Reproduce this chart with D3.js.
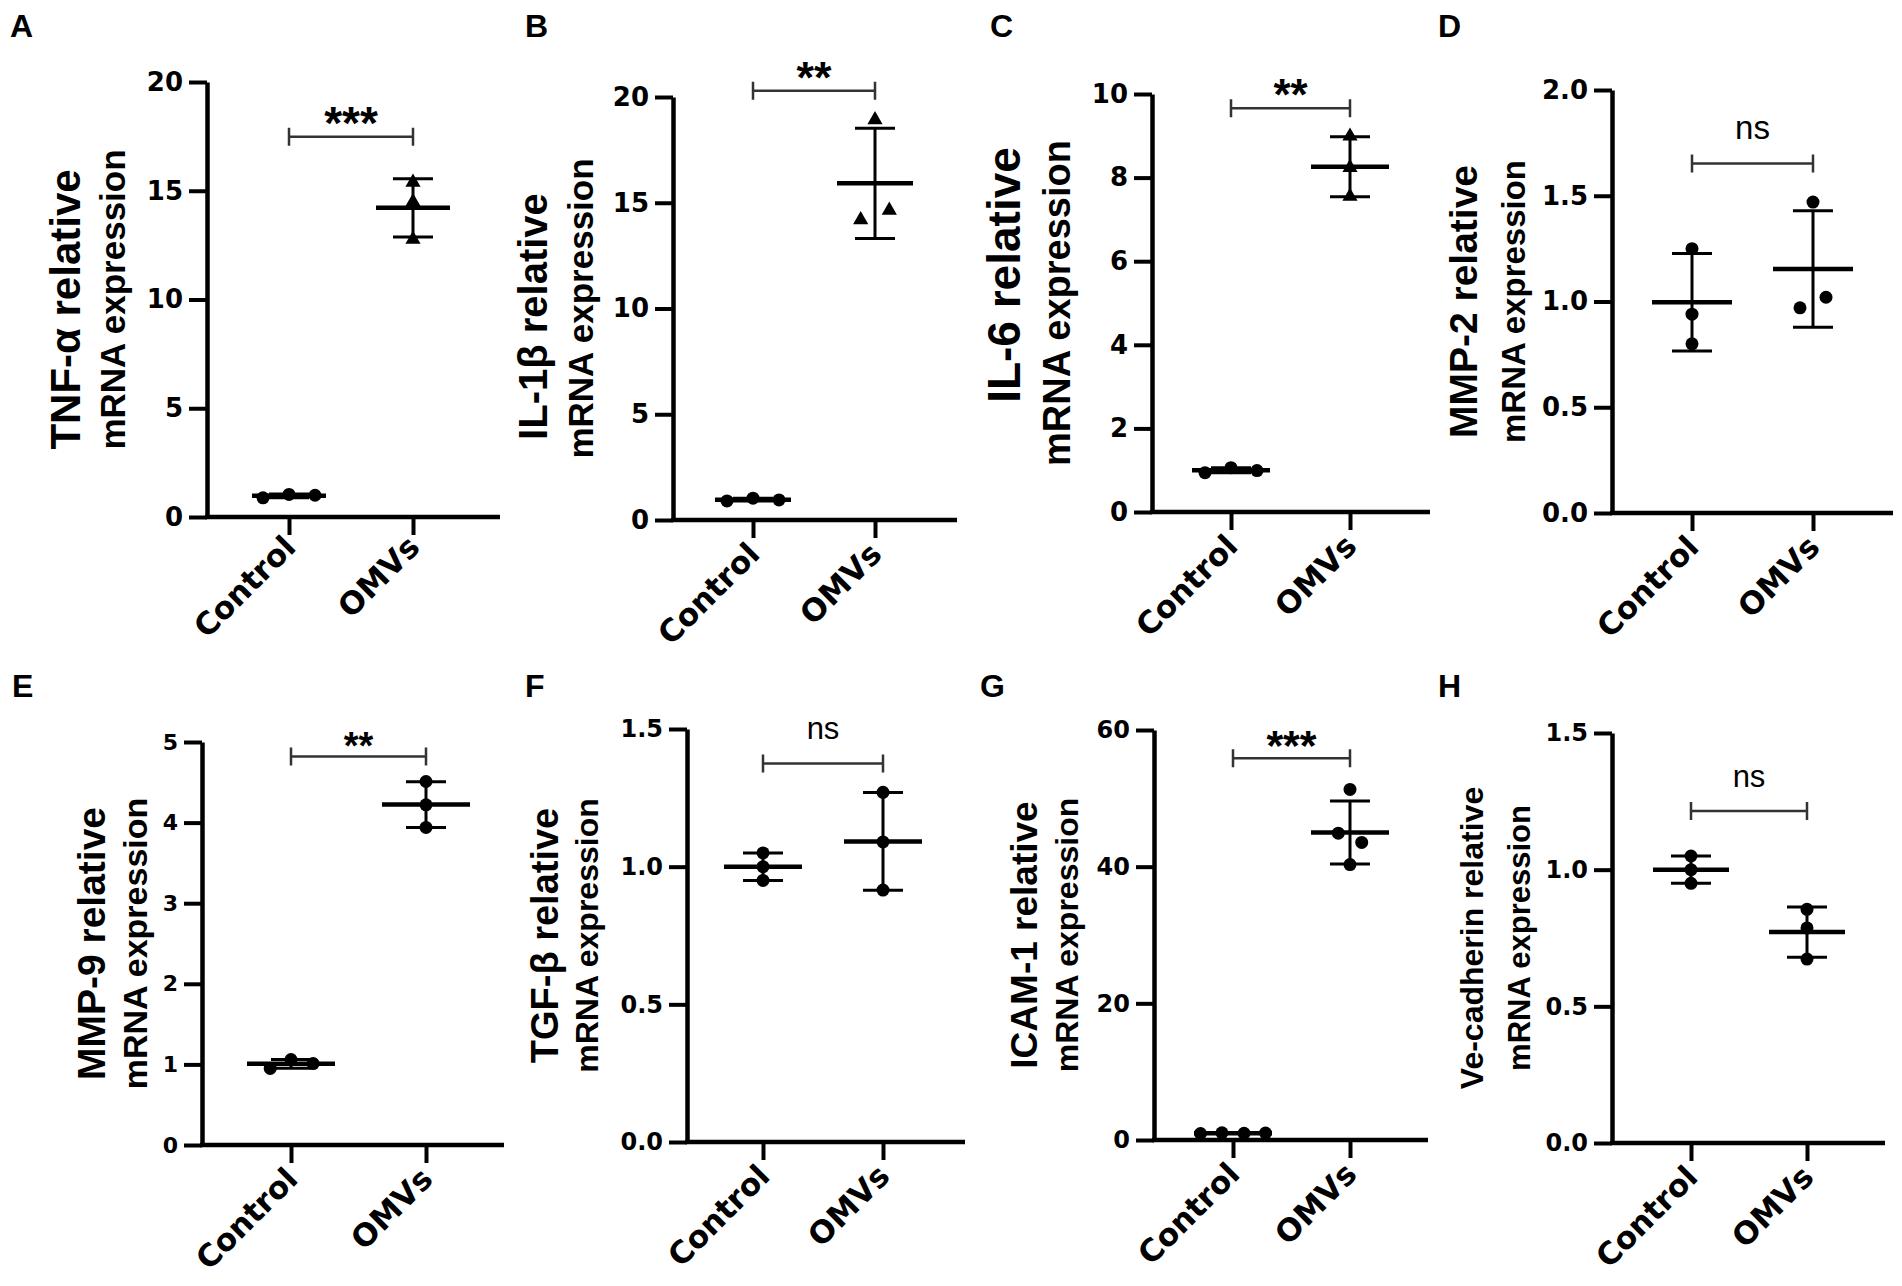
<!DOCTYPE html>
<html>
<head>
<meta charset="utf-8">
<script src="https://cdn.jsdelivr.net/npm/d3@7"></script>
<style>
	body { margin: 0; background: #fff; }
</style>
</head>
<body>
<svg id="fig" width="1902" height="1286"></svg>
<script>
// values
const groups = ["Control", "OMVs"];
const panelLetters = ["A", "B", "C", "D", "E", "F", "G", "H"];
const titleLines = [
	["TNF-α relative", "mRNA expression"],
	["IL-1β relative", "mRNA expression"],
	["IL-6 relative", "mRNA expression"],
	["MMP-2 relative", "mRNA expression"],
	["MMP-9 relative", "mRNA expression"],
	["TGF-β relative", "mRNA expression"],
	["ICAM-1 relative", "mRNA expression"],
	["Ve-cadherin relative", "mRNA expression"]
];
const yTicks = [
	[0, 5, 10, 15, 20],
	[0, 5, 10, 15, 20],
	[0, 2, 4, 6, 8, 10],
	[0, 0.5, 1, 1.5, 2],
	[0, 1, 2, 3, 4, 5],
	[0, 0.5, 1, 1.5],
	[0, 20, 40, 60],
	[0, 0.5, 1, 1.5]
];
const tickDecimals = [0, 0, 0, 1, 0, 1, 0, 1];
const controlValues = [
	[0.88, 1.04, 1.00],
	[0.90, 1.03, 0.95],
	[0.94, 1.06, 0.99],
	[1.25, 0.94, 0.80],
	[0.95, 1.06, 1.01],
	[1.05, 1.00, 0.95],
	[0.95, 1.05, 0.98, 1.02],
	[1.05, 1.00, 0.95]
];
const omvValues = [
	[15.39, 14.49, 12.76],
	[18.92, 14.19, 14.64],
	[8.99, 8.24, 7.55],
	[1.47, 0.97, 1.02],
	[4.51, 4.22, 3.94],
	[1.27, 1.09, 0.915],
	[51.3, 44.9, 43.55, 40.3],
	[0.855, 0.787, 0.673]
];
// side-by-side spreading of points (in point widths)
const controlJitter = [[-2, 0, 2], [-2, 0, 2], [-2, 0, 2], [0, 0, 0], [-1.6, 0, 1.7], [0, 0, 0], [-2.5, -0.85, 0.85, 2.5], [0, 0, 0]];
const omvJitter = [[0, 0, 0], [0, -1.1, 1.1], [0, 0, 0], [0, -1, 1], [0, 0, 0], [0, 0, 0], [0, -0.9, 0.9, 0], [0, 0, 0]];
const omvShape = ["triangle", "triangle", "triangle", "circle", "circle", "circle", "circle", "circle"];
const sigLabels = ["***", "**", "**", "ns", "**", "ns", "***", "ns"];
const sigLevels = [17.48, 20.3, 9.66, 1.653, 4.82, 1.375, 55.85, 1.215];

// panel placement on the page
const layout = [
	{ax: 207, top: 82, zero: 517, xc: 289, xo: 413, xEnd: 500, lx: 10, ly: 37, tick: 26, title: [42, 35], tOff: [-127, -82], tShift: 10, labDy: -4, star: 46, ns: 33, mean: 37},
	{ax: 673, top: 97, zero: 520, xc: 753, xo: 875, xEnd: 957, lx: 525, ly: 37, tick: 26, title: [40, 35], tOff: [-126, -80], tShift: 8, labDy: 0, star: 45, ns: 33, mean: 38},
	{ax: 1152, top: 94, zero: 512, xc: 1231, xo: 1350, xEnd: 1430, lx: 990, ly: 37, tick: 26, title: [46, 38], tOff: [-132, -82], tShift: -28, labDy: 0, star: 44, ns: 33, mean: 39},
	{ax: 1612, top: 90, zero: 513, xc: 1692, xo: 1813, xEnd: 1893, lx: 1438, ly: 37, tick: 26, title: [39, 33], tOff: [-135, -87], tShift: 0, labDy: 0, star: 44, ns: 33, mean: 40},
	{ax: 202, top: 742, zero: 1145, xc: 291, xo: 426, xEnd: 504, lx: 12, ly: 697, tick: 22, title: [39, 34], tOff: [-97, -55], tShift: 0, labDy: 0, star: 38, ns: 31, mean: 44},
	{ax: 687, top: 729, zero: 1142, xc: 763, xo: 883, xEnd: 965, lx: 525, ly: 697, tick: 24, title: [38, 32], tOff: [-129, -89], tShift: 0, labDy: 0, star: 42, ns: 31, mean: 39},
	{ax: 1154, top: 730, zero: 1140, xc: 1233, xo: 1350, xEnd: 1428, lx: 980, ly: 697, tick: 24, title: [37, 32], tOff: [-117, -76], tShift: 0, labDy: 0, star: 43, ns: 31, mean: 39},
	{ax: 1612, top: 733, zero: 1143, xc: 1691, xo: 1807, xEnd: 1885, lx: 1438, ly: 697, tick: 24, title: [32, 31], tOff: [-129, -82], tShift: 0, labDy: 0, star: 42, ns: 31, mean: 38}
];

const sansBold = "'Liberation Sans', Arial, sans-serif";
const wideBold = "'DejaVu Sans', sans-serif";
const pointStep = 13,
	capHalf = 20;

const svg = d3.select("#fig");
svg.append("rect").attr("width", 1902).attr("height", 1286).attr("fill", "#fff");

panelLetters.forEach((letter, i) => {
	let L = layout[i],
		g = svg.append("g");

	let y = d3.scaleLinear()
		.domain([0, d3.max(yTicks[i])])
		.range([L.zero, L.top]);

	let x = d3.scalePoint()
		.domain(groups)
		.range([L.xc, L.xo]);

	// panel letter
	g.append("text")
		.attr("x", L.lx)
		.attr("y", L.ly)
		.attr("font-family", sansBold)
		.attr("font-weight", "bold")
		.attr("font-size", 32)
		.text(letter);

	// y axis
	let yAxis = g.append("g")
		.attr("transform", `translate(${L.ax},0)`)
		.call(d3.axisLeft(y)
			.tickValues(yTicks[i])
			.tickSize(18)
			.tickSizeOuter(0)
			.tickPadding(6)
			.tickFormat(d3.format(tickDecimals[i] ? ".1f" : "d")));
	yAxis.select(".domain").attr("stroke", "#000").attr("stroke-width", 4.5);
	yAxis.selectAll(".tick line").attr("stroke", "#000").attr("stroke-width", 4);
	yAxis.selectAll(".tick text")
		.attr("fill", "#000")
		.attr("font-family", wideBold)
		.attr("font-weight", "bold")
		.attr("font-size", L.tick);

	// x axis
	g.append("line")
		.attr("x1", L.ax - 2)
		.attr("x2", L.xEnd)
		.attr("y1", L.zero)
		.attr("y2", L.zero)
		.attr("stroke", "#000")
		.attr("stroke-width", 4.5);

	let xAxis = g.append("g")
		.attr("transform", `translate(0,${L.zero})`)
		.call(d3.axisBottom(x).tickSize(18).tickSizeOuter(0));
	xAxis.select(".domain").remove();
	xAxis.selectAll(".tick line").attr("stroke", "#000").attr("stroke-width", 4);
	xAxis.selectAll(".tick text")
		.attr("fill", "#000")
		.attr("font-family", wideBold)
		.attr("font-weight", "bold")
		.attr("font-size", 31)
		.attr("text-anchor", "end")
		.attr("dy", null)
		.attr("y", null)
		.attr("transform", `translate(8,${36 + L.labDy}) rotate(-45)`);

	// y title, two lines
	let yc = (L.top + L.zero) / 2;
	titleLines[i].forEach((line, k) => {
		g.append("text")
			.attr("transform", `translate(${L.ax + L.tOff[k]},${yc + (k == 0 ? L.tShift : 0)}) rotate(-90)`)
			.attr("text-anchor", "middle")
			.attr("font-family", sansBold)
			.attr("font-weight", "bold")
			.attr("font-size", L.title[k])
			.text(line);
	});

	// points, mean and SD
	[controlValues[i], omvValues[i]].forEach((vals, gi) => {
		let cx = x(groups[gi]),
			jit = gi == 0 ? controlJitter[i] : omvJitter[i],
			shape = gi == 0 ? "circle" : omvShape[i],
			m = d3.mean(vals),
			s = d3.deviation(vals);

		vals.forEach((v, k) => {
			let px = cx + jit[k] * pointStep,
				py = y(v);
			if (shape == "triangle") {
				g.append("path")
					.attr("d", d3.symbol(d3.symbolTriangle, 100)())
					.attr("transform", `translate(${px},${py})`)
					.attr("fill", "#000");
			} else {
				g.append("circle")
					.attr("cx", px)
					.attr("cy", py)
					.attr("r", 6.5)
					.attr("fill", "#000");
			}
		});

		g.append("line")
			.attr("x1", cx).attr("x2", cx)
			.attr("y1", y(m - s)).attr("y2", y(m + s))
			.attr("stroke", "#000").attr("stroke-width", 3);

		for (let e of [m - s, m + s]) {
			g.append("line")
				.attr("x1", cx - capHalf).attr("x2", cx + capHalf)
				.attr("y1", y(e)).attr("y2", y(e))
				.attr("stroke", "#000").attr("stroke-width", 3);
		}

		g.append("line")
			.attr("x1", cx - L.mean).attr("x2", cx + L.mean)
			.attr("y1", y(m)).attr("y2", y(m))
			.attr("stroke", "#000").attr("stroke-width", 4.5);
	});

	// significance bracket
	let yb = y(sigLevels[i]),
		x1 = x(groups[0]),
		x2 = x(groups[1]);
	g.append("path")
		.attr("d", `M${x1},${yb - 9}V${yb + 9}M${x1},${yb}H${x2}M${x2},${yb - 9}V${yb + 9}`)
		.attr("fill", "none")
		.attr("stroke", "#333")
		.attr("stroke-width", 2.5);

	let isNs = sigLabels[i] == "ns";
	g.append("text")
		.attr("x", (x1 + x2) / 2)
		.attr("y", isNs ? yb - 24 : yb + 2)
		.attr("text-anchor", "middle")
		.attr("font-family", sansBold)
		.attr("font-weight", isNs ? "normal" : "bold")
		.attr("font-size", isNs ? L.ns : L.star)
		.text(sigLabels[i]);
});
</script>
</body>
</html>
